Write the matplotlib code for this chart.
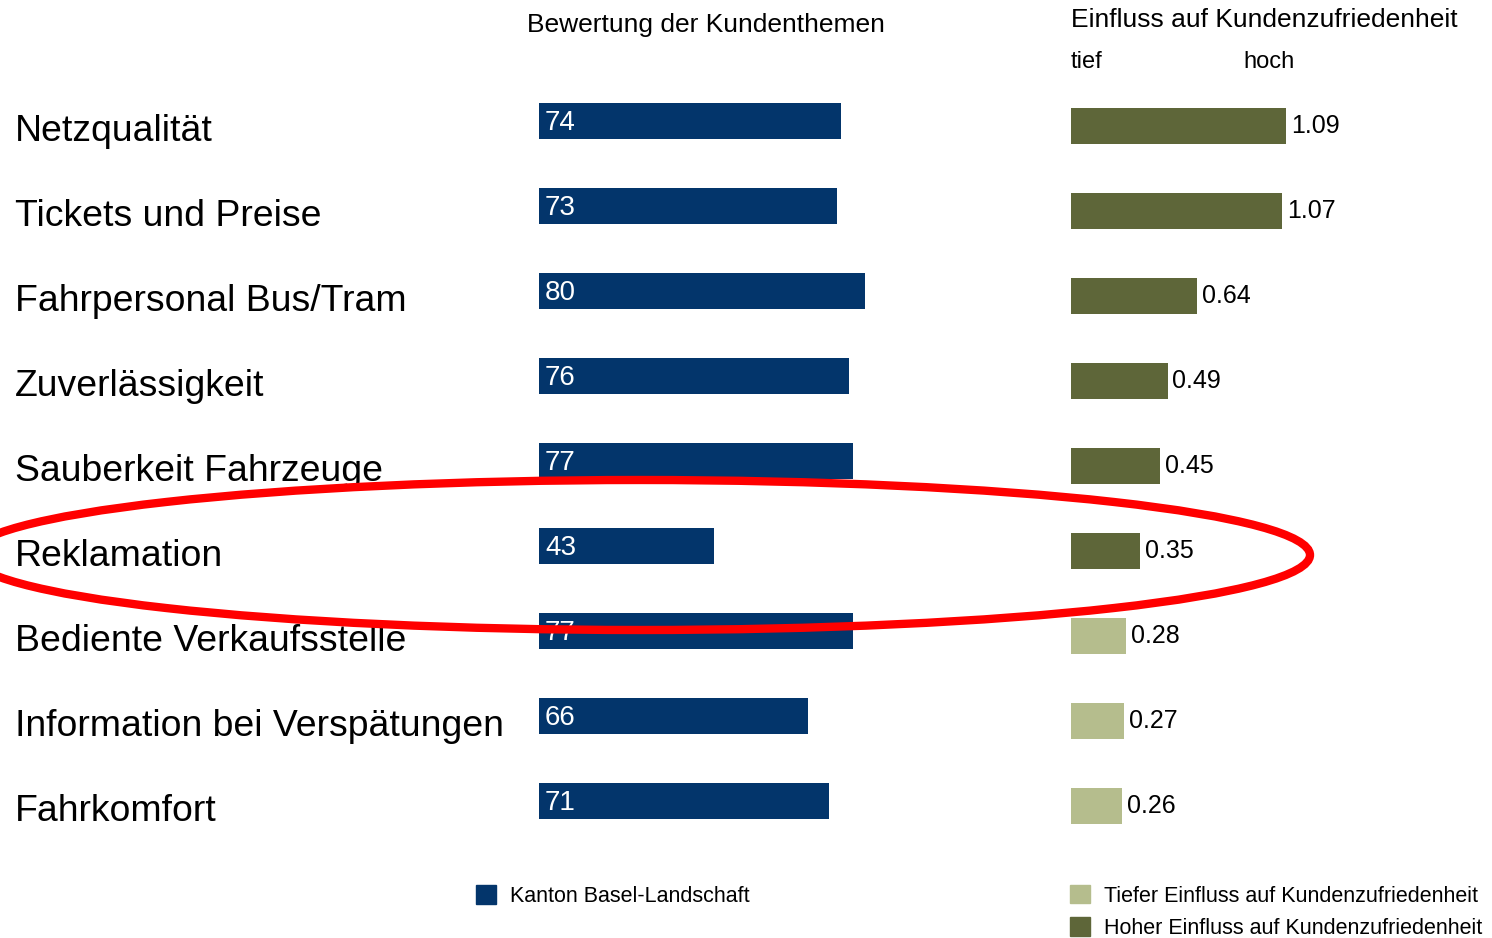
import matplotlib.pyplot as plt
import matplotlib.transforms as mtrans
from matplotlib.patches import Ellipse, Patch

plt.rcParams['font.family'] = ['Liberation Sans', 'DejaVu Sans']

# data
themen = ['Netzqualität', 'Tickets und Preise', 'Fahrpersonal Bus/Tram',
          'Zuverlässigkeit', 'Sauberkeit Fahrzeuge', 'Reklamation',
          'Bediente Verkaufsstelle', 'Information bei Verspätungen', 'Fahrkomfort']
bewertung = [74, 73, 80, 76, 77, 43, 77, 66, 71]
einfluss = [1.09, 1.07, 0.64, 0.49, 0.45, 0.35, 0.28, 0.27, 0.26]
hoch = [True, True, True, True, True, True, False, False, False]

blau = '#03356B'
dunkel = '#5E6639'
hell = '#B5BD8D'

W, H = 1492, 938
fig = plt.figure(figsize=(W / 100, H / 100), dpi=100)

# left block: ratings
ax1 = fig.add_axes([539 / W, 1 - 843.5 / H, 408 / W, 765 / H])
ypos = list(range(len(themen)))
ax1.barh(ypos, bewertung, height=0.42, color=blau)
ax1.set_xlim(0, 100)
ax1.set_ylim(8.5, -0.5)
ax1.axis('off')
for i, v in enumerate(bewertung):
    ax1.text(1.5, i + 0.11, str(v), color='white', fontsize=20, va='baseline')

# category labels at the far left
tr = mtrans.blended_transform_factory(fig.transFigure, ax1.transData)
for i, t in enumerate(themen):
    ax1.text(15 / W, i + 0.23, t, transform=tr, fontsize=26.9, va='baseline',
             ha='left', clip_on=False)

# right block: influence
ax2 = fig.add_axes([1071 / W, 1 - 848.5 / H, 197 * 1.5 / W, 765 / H])
farben = [dunkel if h else hell for h in hoch]
ax2.barh(ypos, einfluss, height=0.42, color=farben)
ax2.set_xlim(0, 1.5)
ax2.set_ylim(8.5, -0.5)
ax2.axis('off')
for i, v in enumerate(einfluss):
    ax2.text(v + 0.025, i + 0.08, f'{v:.2f}', fontsize=18, va='baseline')

# headings
fig.text(527 / W, 1 - 32 / H, 'Bewertung der Kundenthemen', fontsize=19, va='baseline')
fig.text(1071 / W, 1 - 27 / H, 'Einfluss auf Kundenzufriedenheit', fontsize=19, va='baseline')
fig.text(1071 / W, 1 - 68 / H, 'tief', fontsize=17, va='baseline')
fig.text(1243 / W, 1 - 68 / H, 'hoch', fontsize=17, va='baseline')

# legends
fig.legend(handles=[Patch(color=blau, label='Kanton Basel-Landschaft')],
           loc='center left', bbox_to_anchor=(476 / W, 1 - 896 / H), frameon=False,
           fontsize=15.5, handlelength=0.93, handleheight=0.93, handletextpad=0.65,
           borderpad=0, borderaxespad=0)
fig.legend(handles=[Patch(color=hell, label='Tiefer Einfluss auf Kundenzufriedenheit'),
                    Patch(color=dunkel, label='Hoher Einfluss auf Kundenzufriedenheit')],
           loc='upper left', bbox_to_anchor=(1070 / W, 1 - 885 / H), frameon=False,
           fontsize=15.5, handlelength=0.93, handleheight=0.93, handletextpad=0.65,
           labelspacing=0.5, borderpad=0, borderaxespad=0)

# red ellipse highlight
ax0 = fig.add_axes([0, 0, 1, 1])
ax0.set_xlim(0, W)
ax0.set_ylim(H, 0)
ax0.axis('off')
ax0.add_patch(Ellipse((640, 555), 1340, 150, fill=False, ec='#FF0000', lw=6))

fig.savefig('out.png', dpi=100)
